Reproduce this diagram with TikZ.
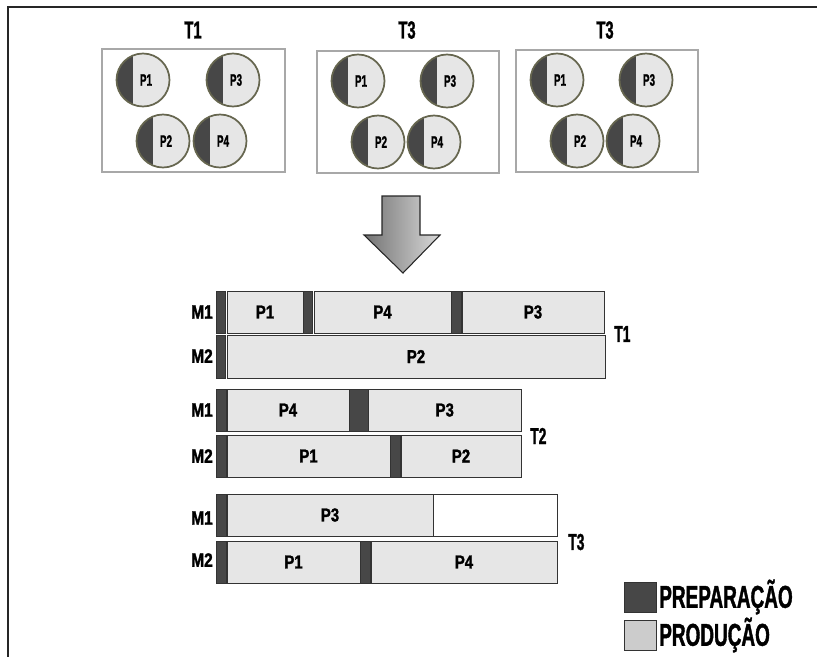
\documentclass[tikz,border=0pt]{standalone}
\usepackage{fontspec}
\setmainfont{Liberation Sans}[FakeStretch=0.6, BoldFeatures={FakeBold=1.2}]
\newfontfamily\widefont{Liberation Sans}[FakeStretch=0.8, BoldFeatures={FakeBold=1.5}]
\definecolor{prepc}{HTML}{474747}
\definecolor{prodc}{HTML}{E6E6E6}
\definecolor{rimc}{HTML}{66664F}
\definecolor{panelc}{HTML}{A8A8A8}
\definecolor{legc}{HTML}{CCCCCC}
\tikzset{
  frame/.style={line width=1.4pt, draw=black!85},
  panel/.style={draw=panelc, line width=0.8pt},
  ttl/.style={font=\bfseries\fontsize{18.5}{20}\selectfont, inner sep=0pt},
  plab/.style={font=\bfseries\fontsize{12.4}{14}\selectfont, inner sep=0pt},
  pcirc/.style={circle, draw=rimc, line width=1.3pt, fill=prodc, minimum size=39.75pt, inner sep=0pt,
    path picture={\fill[prepc] ([xshift=-25pt]path picture bounding box.south) rectangle ([xshift=-7.5pt]path picture bounding box.north);}},
  prepbar/.style={draw=black!80, fill=prepc, line width=0.6pt},
  prodbar/.style={draw=black!80, fill=prodc, line width=0.6pt},
  emptybar/.style={draw=black!80, fill=white, line width=0.6pt},
  glab/.style={font=\widefont\bfseries\fontsize{14}{16}\selectfont, inner sep=0pt},
  mlab/.style={font=\widefont\bfseries\fontsize{14.5}{16}\selectfont, inner sep=0pt},
  tlab/.style={font=\bfseries\fontsize{17.3}{19}\selectfont, inner sep=0pt},
  leglab/.style={font=\bfseries\fontsize{23.7}{26}\selectfont, inner sep=0pt, anchor=west},
}
\newcommand\pc[4]{%
  \node[pcirc] (#1) at (#2,#3) {};
  \node[plab] (#1t) at ([xshift=2.25pt]#1.center) {#4};}
\newcommand\gbar[6]{% style, x1, y1, x2, y2, label
  \draw[#1] (#2,#3) rectangle (#4,#5) node[glab, midway] {#6};}
\begin{document}
\begin{tikzpicture}[x=0.75pt,y=-0.75pt]
\useasboundingbox (0,0) rectangle (817,657);
% frame (cropped)
\draw[frame] (817,7) -- (8,7) -- (8,657);

% ---- top panels ----
\node[ttl] (ta) at (193,30) {T1};
\node[ttl] (tb) at (407,30) {T3};
\node[ttl] (tc) at (605,30) {T3};
\draw[panel] (102,49) rectangle (285,172);
\draw[panel] (317,51) rectangle (499,173);
\draw[panel] (516,50) rectangle (698,172);

\pc{a1}{143}{80}{P1}
\pc{a3}{233}{80}{P3}
\pc{a2}{163}{141}{P2}
\pc{a4}{220}{141}{P4}

\pc{b1}{358}{81}{P1}
\pc{b3}{447}{81}{P3}
\pc{b2}{378}{142}{P2}
\pc{b4}{434}{142}{P4}

\pc{c1}{557}{80}{P1}
\pc{c3}{646}{80}{P3}
\pc{c2}{577}{141}{P2}
\pc{c4}{633}{141}{P4}

% ---- arrow ----
\shade[left color=black!55, right color=black!15, draw=black!85, line width=0.8pt, line join=miter]
  (382,196) -- (420,196) -- (420,235) -- (440,235) -- (403,273) -- (364,235) -- (382,235) -- cycle;

% ---- Gantt T1 ----
\gbar{prepbar}{216}{291}{225.5}{333}{}
\gbar{prodbar}{227}{291}{303}{333}{P1}
\gbar{prepbar}{303}{291}{312.5}{333}{}
\gbar{prodbar}{314}{291}{451}{333}{P4}
\gbar{prepbar}{451}{291}{461}{333}{}
\gbar{prodbar}{462}{291}{604}{333}{P3}
\gbar{prepbar}{216}{335}{225.5}{378}{}
\gbar{prodbar}{227}{335}{605}{378}{P2}
\node[mlab, anchor=east] (m11) at (213,312) {M1};
\node[mlab, anchor=east] (m12) at (213,356) {M2};
\node[tlab, anchor=west] (g1) at (614,334) {T1};

% ---- Gantt T2 ----
\gbar{prepbar}{216}{389}{226}{431}{}
\gbar{prodbar}{227}{389}{349}{431}{P4}
\gbar{prepbar}{349}{389}{368}{431}{}
\gbar{prodbar}{368.5}{389}{521}{431}{P3}
\gbar{prepbar}{216}{435}{226}{477}{}
\gbar{prodbar}{227}{435}{390}{477}{P1}
\gbar{prepbar}{390}{435}{400.5}{477}{}
\gbar{prodbar}{401}{435}{521}{477}{P2}
\node[mlab, anchor=east] (m21) at (213,410) {M1};
\node[mlab, anchor=east] (m22) at (213,456) {M2};
\node[tlab, anchor=west] (g2) at (530,436) {T2};

% ---- Gantt T3 ----
\gbar{prepbar}{216}{494}{226.5}{536}{}
\gbar{prodbar}{227}{494}{433}{536}{P3}
\gbar{emptybar}{433}{494}{557}{536}{}
\gbar{prepbar}{216}{541}{226.5}{583}{}
\gbar{prodbar}{227}{541}{360}{583}{P1}
\gbar{prepbar}{360}{541}{370.5}{583}{}
\gbar{prodbar}{371}{541}{557}{583}{P4}
\node[mlab, anchor=east] (m31) at (213,518) {M1};
\node[mlab, anchor=east] (m32) at (213,560) {M2};
\node[tlab, anchor=west] (g3) at (568,542) {T3};

% ---- legend ----
\draw[draw=black!80, fill=prepc, line width=0.6pt] (624,582) rectangle (656,612);
\draw[draw=black!80, fill=legc, line width=0.6pt] (624,620) rectangle (656,650);
\node[leglab] (l1) at (659,597) {PREPARAÇÃO};
\node[leglab] (l2) at (659,635) {PRODUÇÃO};
\end{tikzpicture}
\end{document}
